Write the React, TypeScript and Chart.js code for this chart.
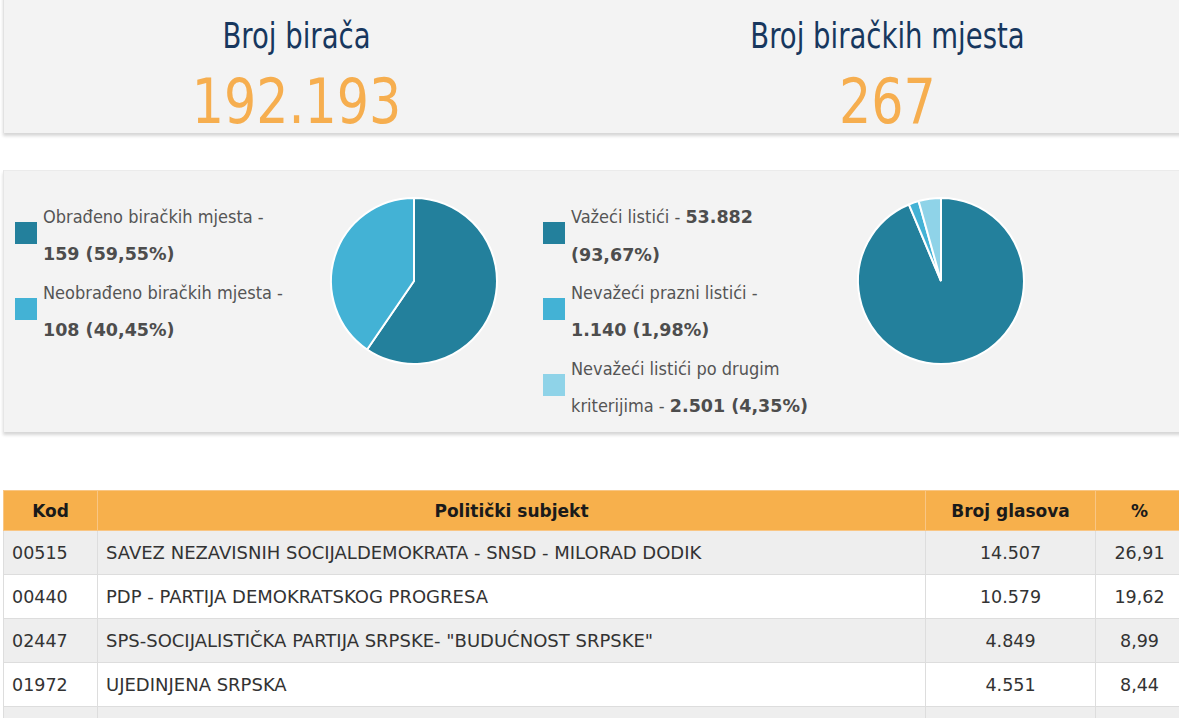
import React, { useEffect, useRef } from "react";
import { Chart, registerables } from "chart.js";

Chart.register(...registerables);

// ---- data ----
const STAT_TITLES = ["Broj birača", "Broj biračkih mjesta"];
const STAT_VALUES = [192193, 267];

const PIE1_LABELS = ["Obrađeno biračkih mjesta", "Neobrađeno biračkih mjesta"];
const PIE1_VALUES = [159, 108];

const PIE2_LABELS = ["Važeći listići", "Nevažeći prazni listići", "Nevažeći listići po drugim kriterijima"];
const PIE2_VALUES = [53882, 1140, 2501];

const PIE_COLORS = ["#23809c", "#43b2d5", "#8fd3e8"];

const TABLE_HEADERS = ["Kod", "Politički subjekt", "Broj glasova", "%"];
const CODES = ["00515", "00440", "02447", "01972", ""];
const PARTIES = [
  "SAVEZ NEZAVISNIH SOCIJALDEMOKRATA - SNSD - MILORAD DODIK",
  "PDP - PARTIJA DEMOKRATSKOG PROGRESA",
  "SPS-SOCIJALISTIČKA PARTIJA SRPSKE- \"BUDUĆNOST SRPSKE\"",
  "UJEDINJENA SRPSKA",
  "",
];
const VOTES: (number | null)[] = [14507, 10579, 4849, 4551, null];
const PCTS: (number | null)[] = [26.91, 19.62, 8.99, 8.44, null];

// ---- helpers ----
const fmtInt = (n: number) => String(n).replace(/\B(?=(\d{3})+(?!\d))/g, ".");
const fmtPct = (n: number) => n.toFixed(2).replace(".", ",");
const share = (vals: number[], i: number) => (vals[i] / vals.reduce((a, b) => a + b, 0)) * 100;

const COND_FONT = "'DejaVu Sans Condensed', 'DejaVu Sans', sans-serif";
const WIDE_FONT = "'DejaVu Sans', sans-serif";
const TEXT_COLOR = "#555555";

function B({ children }: { children: React.ReactNode }) {
  return (
    <span style={{ fontFamily: WIDE_FONT, fontWeight: "bold", fontSize: 17.5, color: "#4d4d4d" }}>
      {children}
    </span>
  );
}

function Pie({ values, left, top }: { values: number[]; left: number; top: number }) {
  const ref = useRef<HTMLCanvasElement | null>(null);
  useEffect(() => {
    if (!ref.current) return;
    const chart = new Chart(ref.current, {
      type: "pie",
      data: {
        labels: values.map((_, i) => String(i)),
        datasets: [
          {
            data: values,
            backgroundColor: PIE_COLORS.slice(0, values.length),
            borderColor: "#ffffff",
            borderWidth: 2,
            radius: 83,
          } as any,
        ],
      },
      options: {
        animation: false,
        responsive: false,
        maintainAspectRatio: false,
        events: [],
        layout: { padding: 0 },
        plugins: { legend: { display: false }, tooltip: { enabled: false } },
      },
    });
    return () => chart.destroy();
  }, []);
  return (
    <canvas
      ref={ref}
      width={180}
      height={180}
      style={{ position: "absolute", left, top, width: 180, height: 180 }}
    />
  );
}

function LegendItem({
  color,
  left,
  top,
  line1,
  line2,
}: {
  color: string;
  left: number;
  top: number;
  line1: React.ReactNode;
  line2: React.ReactNode;
}) {
  return (
    <div style={{ position: "absolute", left, top, height: 74 }}>
      <div
        style={{
          position: "absolute",
          left: 0,
          top: 24,
          width: 22,
          height: 22,
          background: color,
        }}
      />
      <div
        style={{
          position: "absolute",
          left: 28,
          top: 0,
          whiteSpace: "nowrap",
          fontFamily: COND_FONT,
          fontSize: 18,
          lineHeight: "37px",
          color: TEXT_COLOR,
        }}
      >
        <div>{line1}</div>
        <div>{line2}</div>
      </div>
    </div>
  );
}

export default function App() {
  const p1 = PIE1_VALUES.map((_, i) => fmtPct(share(PIE1_VALUES, i)));
  const p2 = PIE2_VALUES.map((_, i) => fmtPct(share(PIE2_VALUES, i)));
  const colW = [94, 828, 170, 88];
  const lastWords = PIE2_LABELS[2].split(" ");
  const l3a = lastWords.slice(0, -1).join(" ");
  const l3b = lastWords[lastWords.length - 1];

  const cell: React.CSSProperties = { border: "1px solid #dddddd" };

  return (
    <div
      style={{
        position: "fixed",
        left: 0,
        top: 0,
        width: 1179,
        height: 718,
        overflow: "hidden",
        background: "#ffffff",
      }}
    >
      {/* top stats card */}
      <div
        style={{
          position: "absolute",
          left: 3,
          top: -6,
          width: 1190,
          height: 139,
          background: "#f3f3f3",
          borderLeft: "1px solid #e2e2e2",
          boxShadow: "0 3px 3px rgba(0,0,0,0.16)",
        }}
      >
        {STAT_TITLES.map((t, i) => (
          <div
            key={t}
            style={{ position: "absolute", left: i * 591 - 3, top: 0, width: 591 }}
          >
            <div
              style={{
                position: "absolute",
                left: 0,
                width: 591,
                top: 21.5,
                textAlign: "center",
                fontFamily: COND_FONT,
                fontSize: 36,
                lineHeight: "40px",
                color: "#17375e",
                transform: "scaleX(0.85)",
              }}
            >
              {t}
            </div>
            <div
              style={{
                position: "absolute",
                left: 0,
                width: 591,
                top: 73,
                textAlign: "center",
                fontFamily: COND_FONT,
                fontSize: 63,
                lineHeight: "70px",
                color: "#f6ae4f",
                transform: "scaleX(0.895)",
              }}
            >
              {fmtInt(STAT_VALUES[i])}
            </div>
          </div>
        ))}
      </div>

      {/* pies card */}
      <div
        style={{
          position: "absolute",
          left: 3,
          top: 170,
          width: 1190,
          height: 262,
          background: "#f3f3f3",
          borderTop: "1px solid #ebebeb",
          borderLeft: "1px solid #e6e6e6",
          boxShadow: "0 3px 3px rgba(0,0,0,0.16)",
          boxSizing: "border-box",
        }}
      />

      <LegendItem
        color={PIE_COLORS[0]}
        left={15}
        top={198}
        line1={<span>{PIE1_LABELS[0]} -</span>}
        line2={<B>{fmtInt(PIE1_VALUES[0])} ({p1[0]}%)</B>}
      />
      <LegendItem
        color={PIE_COLORS[1]}
        left={15}
        top={274}
        line1={<span>{PIE1_LABELS[1]} -</span>}
        line2={<B>{fmtInt(PIE1_VALUES[1])} ({p1[1]}%)</B>}
      />
      <Pie values={PIE1_VALUES} left={324} top={191} />

      <LegendItem
        color={PIE_COLORS[0]}
        left={543}
        top={198}
        line1={
          <span>
            {PIE2_LABELS[0]} - <B>{fmtInt(PIE2_VALUES[0])}</B>
          </span>
        }
        line2={<B>({p2[0]}%)</B>}
      />
      <LegendItem
        color={PIE_COLORS[1]}
        left={543}
        top={274}
        line1={<span>{PIE2_LABELS[1]} -</span>}
        line2={<B>{fmtInt(PIE2_VALUES[1])} ({p2[1]}%)</B>}
      />
      <LegendItem
        color={PIE_COLORS[2]}
        left={543}
        top={350}
        line1={<span>{l3a}</span>}
        line2={
          <span>
            {l3b} - <B>{fmtInt(PIE2_VALUES[2])} ({p2[2]}%)</B>
          </span>
        }
      />
      <Pie values={PIE2_VALUES} left={851} top={191} />

      {/* table */}
      <table
        style={{
          position: "absolute",
          left: 3,
          top: 490,
          borderCollapse: "collapse",
          tableLayout: "fixed",
          width: colW.reduce((a, b) => a + b, 0),
          fontFamily: WIDE_FONT,
          fontSize: 17.5,
          color: "#333333",
        }}
      >
        <colgroup>
          {colW.map((w, i) => (
            <col key={i} style={{ width: w }} />
          ))}
        </colgroup>
        <thead>
          <tr style={{ height: 40, background: "#f7b04c" }}>
            {TABLE_HEADERS.map((h) => (
              <th
                key={h}
                style={{
                  border: "1px solid #f9c684",
                  textAlign: "center",
                  fontWeight: "bold",
                  fontSize: 17,
                  color: "#1a1a1a",
                  padding: 0,
                }}
              >
                {h}
              </th>
            ))}
          </tr>
        </thead>
        <tbody>
          {CODES.map((c, i) => (
            <tr key={i} style={{ height: 44, background: i % 2 === 0 ? "#eeeeee" : "#ffffff" }}>
              <td style={{ ...cell, padding: "0 8px" }}>{c}</td>
              <td style={{ ...cell, padding: "0 8px", whiteSpace: "nowrap", fontSize: 18 }}>
                {PARTIES[i]}
              </td>
              <td style={{ ...cell, textAlign: "center" }}>
                {VOTES[i] == null ? "" : fmtInt(VOTES[i] as number)}
              </td>
              <td style={{ ...cell, textAlign: "center" }}>
                {PCTS[i] == null ? "" : fmtPct(PCTS[i] as number)}
              </td>
            </tr>
          ))}
        </tbody>
      </table>
    </div>
  );
}
